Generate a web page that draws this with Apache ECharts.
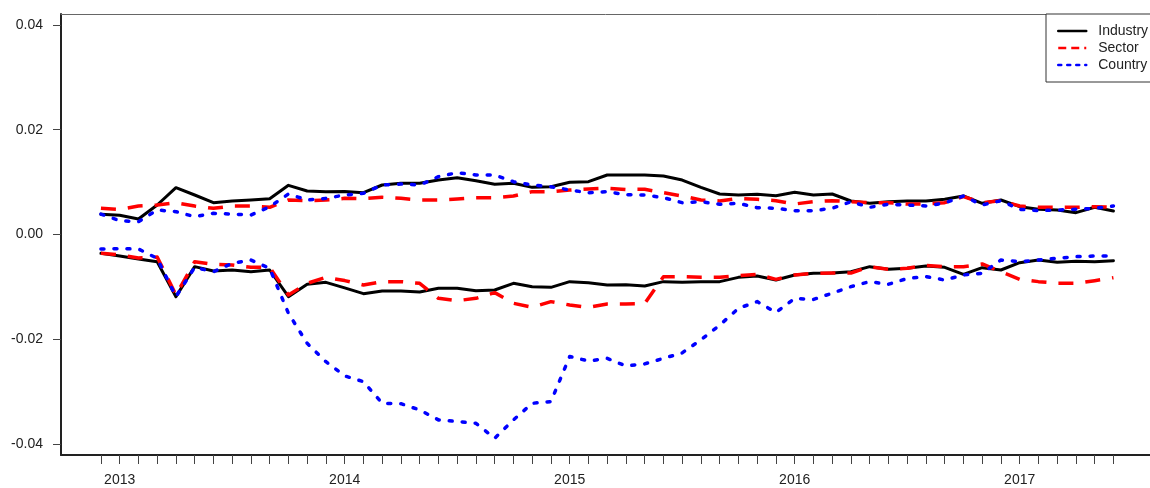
<!DOCTYPE html>
<html>
<head>
<meta charset="utf-8">
<title>Industry / Sector / Country</title>
<script src="https://cdn.jsdelivr.net/npm/echarts@6/dist/echarts.min.js"></script>
<style>
  html, body { margin: 0; padding: 0; background: #fff; }
  #chart { width: 1150px; height: 488px; }
</style>
</head>
<body>
<div id="chart"></div>
<script>
// monthly points, Dec 2012 .. Jun 2017 (index 0..54)
const startYear = 2012, startMonth = 12, nMonths = 55;
const months = [];
for (let i = 0; i < nMonths; i++) {
    const m = (startMonth - 1 + i) % 12 + 1;
    const y = startYear + Math.floor((startMonth - 1 + i) / 12);
    months.push(y + '-' + (m < 10 ? '0' + m : m));
}

// tick labels
const yearTickIdx = [1, 13, 25, 37, 49];
const yearLabels = ['2013', '2014', '2015', '2016', '2017'];
const yTicks = [-0.04, -0.02, 0, 0.02, 0.04];

// upper bands
const industryUpper = [
    0.00386, 0.00366, 0.00296, 0.00563, 0.00894, 0.00754, 0.00607, 0.00640, 0.00659, 0.00684,
    0.00939, 0.00830, 0.00818, 0.00820, 0.00798, 0.00945, 0.00977, 0.00977, 0.01040, 0.01085,
    0.01028, 0.00958, 0.00977, 0.00900, 0.00913, 0.00996, 0.01009, 0.01136, 0.01136, 0.01136,
    0.01117, 0.01040, 0.00900, 0.00773, 0.00754, 0.00767, 0.00741, 0.00805, 0.00754, 0.00773,
    0.00640, 0.00595, 0.00627, 0.00640, 0.00640, 0.00672, 0.00735, 0.00595, 0.00659, 0.00531,
    0.00481, 0.00468, 0.00417, 0.00519, 0.00449
];
const sectorUpper = [
    0.00500, 0.00480, 0.00544, 0.00563, 0.00607, 0.00544, 0.00500, 0.00544, 0.00544, 0.00520,
    0.00659, 0.00646, 0.00659, 0.00690, 0.00685, 0.00710, 0.00690, 0.00659, 0.00659, 0.00678,
    0.00703, 0.00703, 0.00735, 0.00818, 0.00818, 0.00850, 0.00869, 0.00882, 0.00860, 0.00863,
    0.00798, 0.00735, 0.00659, 0.00640, 0.00690, 0.00672, 0.00646, 0.00582, 0.00627, 0.00646,
    0.00627, 0.00607, 0.00607, 0.00582, 0.00582, 0.00607, 0.00722, 0.00607, 0.00646, 0.00544,
    0.00519, 0.00519, 0.00519, 0.00531, 0.00519
];
const countryUpper = [
    0.00390, 0.00264, 0.00245, 0.00468, 0.00436, 0.00340, 0.00404, 0.00390, 0.00372, 0.00530,
    0.00773, 0.00659, 0.00690, 0.00754, 0.00786, 0.00945, 0.00964, 0.00945, 0.01104, 0.01180,
    0.01136, 0.01136, 0.01009, 0.00945, 0.00913, 0.00850, 0.00798, 0.00818, 0.00760, 0.00754,
    0.00703, 0.00607, 0.00627, 0.00576, 0.00595, 0.00512, 0.00500, 0.00455, 0.00455, 0.00500,
    0.00627, 0.00519, 0.00576, 0.00563, 0.00544, 0.00600, 0.00735, 0.00563, 0.00646, 0.00481,
    0.00455, 0.00468, 0.00481, 0.00500, 0.00544
];

// lower bands
const industryLower = [
    -0.00360, -0.00410, -0.00468, -0.00519, -0.01187, -0.00614, -0.00697, -0.00678, -0.00710, -0.00678,
    -0.01187, -0.00951, -0.00913, -0.01020, -0.01130, -0.01079, -0.01079, -0.01098, -0.01028, -0.01028,
    -0.01072, -0.01060, -0.00932, -0.00996, -0.01009, -0.00900, -0.00920, -0.00964, -0.00960, -0.00983,
    -0.00900, -0.00910, -0.00900, -0.00900, -0.00818, -0.00792, -0.00869, -0.00773, -0.00741, -0.00735,
    -0.00710, -0.00614, -0.00665, -0.00646, -0.00600, -0.00627, -0.00760, -0.00633, -0.00678, -0.00538,
    -0.00487, -0.00531, -0.00512, -0.00519, -0.00500
];
const sectorLower = [
    -0.00360, -0.00390, -0.00450, -0.00430, -0.01155, -0.00519, -0.00570, -0.00582, -0.00627, -0.00627,
    -0.01155, -0.00932, -0.00818, -0.00880, -0.00964, -0.00900, -0.00900, -0.00932, -0.01219, -0.01263,
    -0.01219, -0.01110, -0.01314, -0.01390, -0.01282, -0.01346, -0.01390, -0.01327, -0.01327, -0.01320,
    -0.00805, -0.00805, -0.00818, -0.00818, -0.00786, -0.00760, -0.00856, -0.00773, -0.00741, -0.00735,
    -0.00735, -0.00614, -0.00665, -0.00646, -0.00589, -0.00614, -0.00614, -0.00563, -0.00710, -0.00856,
    -0.00900, -0.00932, -0.00932, -0.00882, -0.00824
];
const countryLower = [
    -0.00277, -0.00270, -0.00277, -0.00455, -0.01187, -0.00627, -0.00710, -0.00550, -0.00487, -0.00646,
    -0.01505, -0.02078, -0.02429, -0.02700, -0.02810, -0.03223, -0.03230, -0.03350, -0.03540, -0.03570,
    -0.03605, -0.03890, -0.03540, -0.03223, -0.03190, -0.02330, -0.02415, -0.02365, -0.02510, -0.02470,
    -0.02365, -0.02260, -0.02010, -0.01730, -0.01410, -0.01280, -0.01490, -0.01220, -0.01240, -0.01120,
    -0.00996, -0.00900, -0.00950, -0.00840, -0.00805, -0.00869, -0.00773, -0.00741, -0.00487, -0.00519,
    -0.00487, -0.00455, -0.00423, -0.00410, -0.00410
];

const FONT = '"Liberation Sans", Arial, sans-serif';
const TEXT_COLOR = '#222';

// line looks per group
const styles = {
    Industry: { color: '#000000', width: 3, type: 'solid', cap: 'round' },
    Sector: { color: '#ff0000', width: 3.5, type: [15, 12], cap: 'butt' },
    Country: { color: '#0000ff', width: 3.5, type: [3, 10], cap: 'round' }
};

function toPoints (arr) {
    return arr.map((v, i) => [i, v]);
}

function makeSeries (name, arr) {
    const s = styles[name];
    return {
        name: name,
        type: 'line',
        data: toPoints(arr),
        symbol: 'none',
        showSymbol: false,
        lineStyle: { color: s.color, width: s.width, type: s.type, cap: s.cap, join: 'round' },
        itemStyle: { color: s.color },
        z: name === 'Industry' ? 3 : (name === 'Sector' ? 4 : 5)
    };
}

// legend entries: line only, the marker is hidden
function legendItem (name, dash) {
    return {
        name: name,
        itemStyle: { opacity: 0, borderWidth: 0 },
        lineStyle: { width: 2.5, type: dash, opacity: 1 }
    };
}

const chart = echarts.init(document.getElementById('chart'), null, { renderer: 'canvas' });

const option = {
    animation: false,
    backgroundColor: '#ffffff',
    textStyle: { fontFamily: FONT },
    grid: { left: 61, right: 0, top: 14, bottom: 33, containLabel: false },
    legend: {
        left: 1046,
        top: 14,
        orient: 'vertical',
        itemWidth: 28,
        itemHeight: 14,
        itemGap: 3,
        padding: [10, 12, 10, 11],
        borderColor: '#333',
        borderWidth: 1,
        borderRadius: 0,
        backgroundColor: '#fff',
        textStyle: { fontFamily: FONT, fontSize: 14, color: TEXT_COLOR, padding: [0, 0, 0, 7], lineHeight: 14 },
        data: [
            legendItem('Industry', 'solid'),
            legendItem('Sector', [8, 5]),
            legendItem('Country', [3, 6])
        ]
    },
    xAxis: [
        {
            type: 'value',
            min: -2.13,
            max: 55.95,
            splitLine: { show: false },
            axisLine: { show: true, onZero: false, lineStyle: { color: '#222', width: 2 } },
            axisTick: {
                show: true,
                length: 9,
                customValues: months.map((m, i) => i),
                lineStyle: { color: '#444', width: 1 }
            },
            axisLabel: {
                customValues: yearTickIdx,
                formatter: v => yearLabels[yearTickIdx.indexOf(Math.round(v))] || '',
                margin: 18,
                fontSize: 14,
                color: TEXT_COLOR,
                fontFamily: FONT
            }
        },
        {
            type: 'value',
            position: 'top',
            min: -2.13,
            max: 55.95,
            splitLine: { show: false },
            axisLine: { show: true, onZero: false, lineStyle: { color: '#666', width: 1 } },
            axisTick: { show: false },
            axisLabel: { show: false }
        }
    ],
    yAxis: {
        type: 'value',
        min: -0.0421,
        max: 0.0421,
        splitLine: { show: false },
        axisLine: { show: true, onZero: false, lineStyle: { color: '#222', width: 2 } },
        axisTick: {
            show: true,
            length: 8,
            customValues: yTicks,
            lineStyle: { color: '#444', width: 1 }
        },
        axisLabel: {
            customValues: yTicks,
            formatter: v => v.toFixed(2),
            margin: 18,
            fontSize: 14,
            color: TEXT_COLOR,
            fontFamily: FONT
        }
    },
    series: [
        makeSeries('Industry', industryUpper),
        makeSeries('Sector', sectorUpper),
        makeSeries('Country', countryUpper),
        makeSeries('Industry', industryLower),
        makeSeries('Sector', sectorLower),
        makeSeries('Country', countryLower)
    ]
};

chart.setOption(option);
</script>
</body>
</html>
